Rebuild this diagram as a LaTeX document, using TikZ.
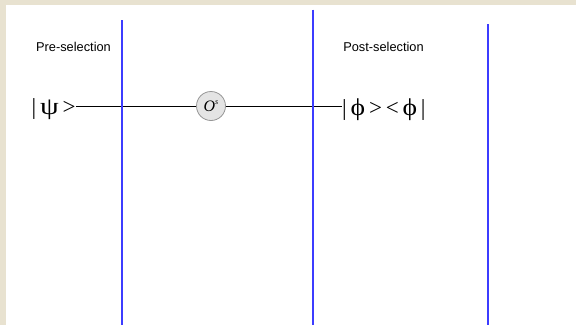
\documentclass[tikz,border=0pt]{standalone}
\usepackage{fontspec}
\setmainfont{Liberation Serif}
\newfontfamily\labelfont{Liberation Sans}
\definecolor{paper}{RGB}{232,226,208}
\definecolor{ringgray}{RGB}{150,150,150}
\definecolor{ballgray}{RGB}{228,228,228}
\definecolor{divider}{RGB}{60,60,255}
% wide Greek letters for the bra-ket labels
\newcommand{\wpsi}{\scalebox{1.3}[1.05]{ψ}}
\newcommand{\wphi}{\scalebox{1.2}[1.05]{ϕ}}
\begin{document}
\begin{tikzpicture}[x=1pt,y=-1pt,
  stage/.style={font=\labelfont\fontsize{12.8}{14}\selectfont, inner sep=0pt},
  ket/.style={font=\fontsize{23}{26}\selectfont, inner sep=0pt},
  gate/.style={circle, draw=ringgray, fill=ballgray, line width=0.8pt,
    minimum size=29pt, inner sep=0pt, font=\fontsize{16}{18}\selectfont},
  wire/.style={black, line width=0.8pt},
  sep/.style={divider, line width=1.35pt}]
  \useasboundingbox (0,0) rectangle (576,325);
  % textured margin and white sheet
  \fill[paper] (0,0) rectangle (576,325);
  \fill[white] (6,5) rectangle (576,325);

  % stage dividers
  \coordinate (d1t) at (122,20);  \coordinate (d1b) at (122,325);
  \coordinate (d2t) at (313,9.5); \coordinate (d2b) at (313,325);
  \coordinate (d3t) at (488,24);  \coordinate (d3b) at (488,325);

  % stage titles
  \node[stage] (pre)  at (73.5,47) {Pre-selection};
  \node[stage] (post) at (383.5,46.5) {Post-selection};

  % states and the operator
  \node[ket, anchor=west] (psi) at (31.5,109.5) {|\,\wpsi\,>};
  \node[gate] (op) at (211,106) {\textit{O}\raisebox{0.45em}{\fontsize{8}{9}\selectfont\textit{s}}};
  \node[ket, anchor=west] (phi) at (342,109.5) {|\,\wphi\,>\,<\,\wphi\,|};

  % wire through the operator
  \draw[wire] (psi.east |- op.west) -- (op.west);
  \draw[wire] (op.east) -- (phi.west |- op.east);

  \draw[sep] (d1t) -- (d1b);
  \draw[sep] (d2t) -- (d2b);
  \draw[sep] (d3t) -- (d3b);
\end{tikzpicture}
\end{document}
